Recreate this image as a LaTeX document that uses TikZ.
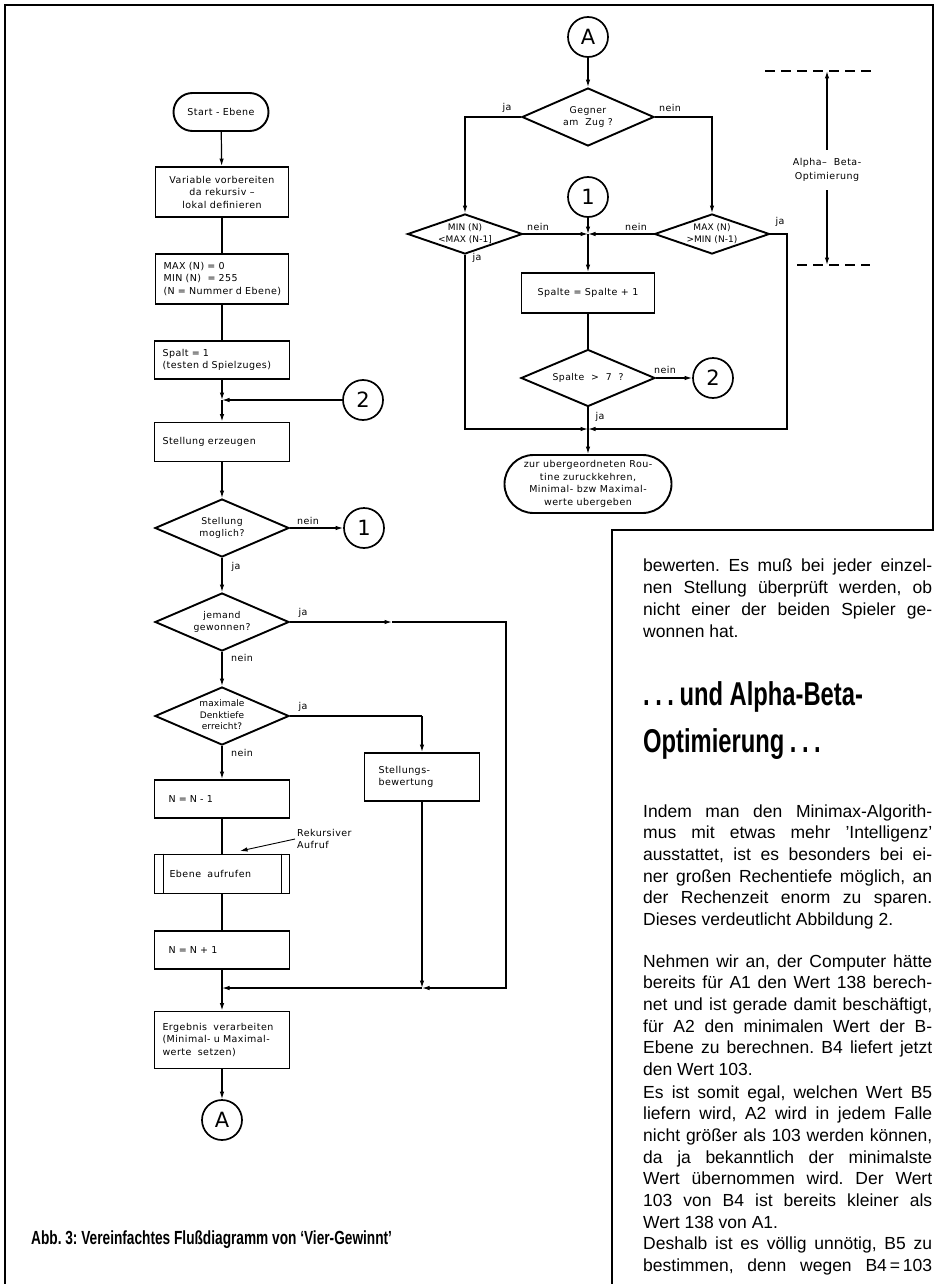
\documentclass[tikz,border=0pt]{standalone}
\usepackage{fontspec}
\setmainfont{Liberation Sans}
\newfontfamily\dinfont[LetterSpace=5]{DejaVu Sans}
\newfontfamily\dintight[LetterSpace=1]{DejaVu Sans}
\newfontfamily\condfont[FakeStretch=0.72]{Liberation Sans}
\usetikzlibrary{shapes.geometric,arrows.meta}
\frenchspacing
\newcommand\flowfont{\dinfont\fontsize{9.5}{12.5}\selectfont}
\newcommand\diafont{\dinfont\fontsize{9.3}{12.2}\selectfont}
\newcommand\smallfont{\dintight\fontsize{9}{11.5}\selectfont}
\newcommand\bodyfont{\fontsize{17.5}{21}\selectfont}
\newcommand\zb[1]{\makebox[0pt]{\smash{\raisebox{-0.45ex}{\begin{tabular}{@{}c@{}}#1\end{tabular}}}}}
\begin{document}
\begin{tikzpicture}[x=1pt,y=-1pt,
  con/.style={line width=1.2pt},
  arrc/.style={con,-{Latex[length=7.5pt,width=4.5pt]}},
  blk/.style={draw,line width=1.9pt,font=\flowfont,inner sep=0pt},
  dia/.style 2 args={blk,diamond,minimum width=#1,minimum height=#2,font=\diafont},
  conn/.style={draw,circle,line width=1.7pt,minimum size=40,inner sep=0pt,font=\dinfont\fontsize{21}{21}\selectfont},
  lbl/.style={font=\flowfont,inner sep=0pt},
  body/.style={anchor=base west,inner sep=0pt,font=\bodyfont},
  dsh/.style={line width=1.4pt,dash pattern=on 10pt off 6pt}]
\useasboundingbox (0,0) rectangle (936,1284);
% frame
\draw[line width=2pt] (5,1290) -- (5,5) -- (933,5) -- (933,530) -- (612,530) -- (612,1290);

% ---------------- left flowchart ----------------
\node[blk,rounded corners=19pt,minimum width=95,minimum height=38] (start) at (221,112) {Start - Ebene};
\node[blk,minimum width=133,minimum height=50,align=center] (v1) at (222,192) {Variable vorbereiten\\da rekursiv –\\lokal definieren};
\node[blk,minimum height=50,text width=117,inner xsep=8pt,align=left] (v2) at (222,279) {\mbox{MAX (N) = 0}\\\mbox{MIN (N) \ = 255}\\\mbox{(N = Nummer d Ebene)}};
\node[blk,minimum height=38,text width=119,inner xsep=8pt,align=left] (v3) at (222,360) {\mbox{Spalt = 1}\\\mbox{(testen d Spielzuges)}};
\coordinate (j1) at (222,400);
\node[conn] (c2) at (363,400) {2};
\node[blk,minimum height=39,text width=119,inner xsep=8pt,align=left] (v4) at (222,442) {\mbox{Stellung erzeugen}};
\node[dia={134}{58}] (d1) at (222,528) {\zb{Stellung\\moglich?}};
\node[conn] (c1) at (364,528) {1};
\node[dia={134}{58}] (d2) at (222,622) {\zb{jemand\\gewonnen?}};
\node[dia={134}{58},font=\smallfont] (d3) at (222,716) {\zb{maximale\\Denktiefe\\erreicht?}};
\node[blk,minimum height=48,text width=87,inner xsep=14pt,align=left] (sb) at (422,777) {\mbox{Stellungs-}\\\mbox{bewertung}};
\node[blk,minimum height=38,text width=107,inner xsep=14pt,align=left] (b5) at (222,799) {N = N - 1};
\node[blk,minimum height=39,text width=105,inner xsep=15pt,align=left] (b6) at (222,874) {\mbox{Ebene \ aufrufen}};
\node[blk,minimum height=38,text width=107,inner xsep=14pt,align=left] (b7) at (222,950) {N = N + 1};
\coordinate (j2) at (222,988);
\node[blk,minimum height=57,text width=119,inner xsep=8pt,align=left] (b8) at (222,1040) {\mbox{Ergebnis \ verarbeiten}\\\mbox{(Minimal- u Maximal-}\\\mbox{werte \ setzen)}};
\node[conn] (cA) at (222,1120) {A};
\draw[line width=1.8pt] ([xshift=10pt]b6.north west) -- ([xshift=10pt]b6.south west);
\draw[line width=1.8pt] ([xshift=-9pt]b6.north east) -- ([xshift=-9pt]b6.south east);

\coordinate (m1) at (392,622);
\coordinate (k1) at (506,622);
\coordinate (k2) at (506,988);
\coordinate (k3) at (422,988);
\coordinate (k4) at (422,716);

\draw[arrc] (start) -- (v1);
\draw[con] (v1) -- (v2);
\draw[con] (v2) -- (v3);
\draw[arrc] (v3) -- (j1);
\draw[arrc] (c2) -- (j1);
\draw[arrc] (j1) -- (v4);
\draw[arrc] (v4) -- (d1);
\draw[arrc] (d1.east) -- (c1);
\draw[arrc] (d1.south) -- (d2.north);
\draw[arrc] (d2.south) -- (d3.north);
\draw[arrc] (d2.east) -- (m1);
\draw[arrc] (m1) -- (k1) -- (k2) -- (k3);
\draw[arrc] (k3) -- (j2);
\draw[con] (d3.east) -- (k4);
\draw[arrc] (k4) -- (sb.north);
\draw[arrc] (sb.south) -- (k3);
\draw[arrc] (d3.south) -- (b5.north);
\draw[con] (b5) -- (b6);
\draw[con] (b6) -- (b7);
\draw[con] (b7) -- (j2);
\draw[arrc] (j2) -- (b8);
\draw[arrc] (b8) -- (cA);

\node[lbl] (l1) at (308,521) {nein};
\node[lbl] (l2) at (236,567) {ja};
\node[lbl] (l3) at (303,613) {ja};
\node[lbl] (l4) at (242,658) {nein};
\node[lbl] (l5) at (303,707) {ja};
\node[lbl] (l6) at (242,753) {nein};
\node[lbl,anchor=west,align=left] (rk) at (297,839) {Rekursiver\\Aufruf};
\coordinate (ra) at (240,851);
\draw[arrc,line width=0.9pt] ([xshift=-2pt]rk.west) -- (ra);

% ---------------- right flowchart ----------------
\node[conn] (cA2) at (588,37) {A};
\node[dia={132}{58}] (g) at (588,117) {\zb{Gegner\\am \ Zug ?}};
\node[dia={115}{40},font=\smallfont] (mn) at (465,234) {\zb{MIN (N)\\<MAX (N-1]}};
\node[dia={115}{40},font=\smallfont] (mx) at (712,234) {\zb{MAX (N)\\>MIN (N-1)}};
\node[conn] (c1r) at (588,197) {1};
\coordinate (jr) at (588,234);
\node[blk,minimum width=133,minimum height=40] (sp) at (588,293) {Spalte = Spalte + 1};
\node[dia={134}{57}] (d7) at (588,378) {\zb{Spalte \ > \ 7 \ ?}};
\node[conn] (c2r) at (713,378) {2};
\coordinate (j3) at (588,429);
\node[blk,rounded corners=29pt,minimum width=167,minimum height=58,align=center] (term) at (588,484) {zur ubergeordneten Rou-\\tine zuruckkehren,\\Minimal- bzw Maximal-\\werte ubergeben};

\coordinate (g1) at (465,117);
\coordinate (g2) at (712,117);
\coordinate (n1) at (465,429);
\coordinate (x1) at (787,234);
\coordinate (x2) at (787,429);

\draw[arrc] (cA2) -- (g);
\draw[arrc] (g.west) -- (g1) -- (mn.north);
\draw[arrc] (g.east) -- (g2) -- (mx.north);
\draw[arrc] (mn.east) -- (jr);
\draw[arrc] (mx.west) -- (jr);
\draw[arrc] (c1r) -- (jr);
\draw[arrc] (jr) -- (sp);
\draw[con] (sp) -- (d7);
\draw[arrc] (d7.east) -- (c2r);
\draw[arrc] (d7.south) -- (term.north);
\draw[arrc] (mn.south) -- (n1) -- (j3);
\draw[arrc] (mx.east) -- (x1) -- (x2) -- (j3);

\node[lbl] (r1) at (507,108) {ja};
\node[lbl] (r2) at (670,108) {nein};
\node[lbl] (r3) at (538,227) {nein};
\node[lbl] (r4) at (636,227) {nein};
\node[lbl] (r5) at (477,258) {ja};
\node[lbl] (r6) at (780,222) {ja};
\node[lbl] (r7) at (665,370) {nein};
\node[lbl] (r8) at (600,417) {ja};

% alpha-beta annotation
\coordinate (ab1) at (827,71);
\coordinate (ab2) at (827,265);
\draw[dsh] (765,71) -- (873,71);
\draw[dsh] (797,265) -- (870,265);
\node[lbl,align=center,minimum height=40] (ab) at (827,170) {Alpha– \ Beta-\\[2pt]Optimierung};
\draw[arrc] (ab.north) -- (ab1);
\draw[arrc] (ab.south) -- (ab2);

% ---------------- caption ----------------
\node[anchor=base west,inner sep=0pt,font=\condfont\bfseries\fontsize{19}{19}\selectfont] (cap) at (31,1244) {Abb. 3: Vereinfachtes Flußdiagramm von ‘Vier-Gewinnt’};

% ---------------- right column text ----------------
\node[body] (t1) at (643,571) {\makebox[289pt][s]{bewerten. Es muß bei jeder einzel-}};
\node[body] (t2) at (643,593) {\makebox[289pt][s]{nen Stellung überprüft werden, ob}};
\node[body] (t3) at (643,615) {\makebox[289pt][s]{nicht einer der beiden Spieler ge-}};
\node[body] (t4) at (643,637) {wonnen hat.};

\node[anchor=base west,inner sep=0pt,font=\condfont\bfseries\fontsize{33}{33}\selectfont] (h1) at (643,705) {.\,.\,.\,und Alpha-Beta-};
\node[anchor=base west,inner sep=0pt,font=\condfont\bfseries\fontsize{33}{33}\selectfont] (h2) at (643,752) {Optimierung\,.\,.\,.};

\node[body] (p1) at (643,817) {\makebox[289pt][s]{Indem man den Minimax-Algorith-}};
\node[body] (p2) at (643,838.7) {\makebox[289pt][s]{mus mit etwas mehr ’Intelligenz’}};
\node[body] (p3) at (643,860.4) {\makebox[289pt][s]{ausstattet, ist es besonders bei ei-}};
\node[body] (p4) at (643,882.1) {\makebox[289pt][s]{ner großen Rechentiefe möglich, an}};
\node[body] (p5) at (643,903.8) {\makebox[289pt][s]{der Rechenzeit enorm zu sparen.}};
\node[body] (p6) at (643,925.5) {Dieses verdeutlicht Abbildung 2.};

\node[body] (q1) at (643,967) {\makebox[289pt][s]{Nehmen wir an, der Computer hätte}};
\node[body] (q2) at (643,988.7) {\makebox[289pt][s]{bereits für A1 den Wert 138 berech-}};
\node[body] (q3) at (643,1010.4) {\makebox[289pt][s]{net und ist gerade damit beschäftigt,}};
\node[body] (q4) at (643,1032.1) {\makebox[289pt][s]{für A2 den minimalen Wert der B-}};
\node[body] (q5) at (643,1053.8) {\makebox[289pt][s]{Ebene zu berechnen. B4 liefert jetzt}};
\node[body] (q6) at (643,1075.5) {den Wert 103.};
\node[body] (q7) at (643,1098) {\makebox[289pt][s]{Es ist somit egal, welchen Wert B5}};
\node[body] (q8) at (643,1119.7) {\makebox[289pt][s]{liefern wird, A2 wird in jedem Falle}};
\node[body] (q9) at (643,1141.4) {\makebox[289pt][s]{nicht größer als 103 werden können,}};
\node[body] (q10) at (643,1163.1) {\makebox[289pt][s]{da ja bekanntlich der minimalste}};
\node[body] (q11) at (643,1184.8) {\makebox[289pt][s]{Wert übernommen wird. Der Wert}};
\node[body] (q12) at (643,1206.5) {\makebox[289pt][s]{103 von B4 ist bereits kleiner als}};
\node[body] (q13) at (643,1228.2) {Wert 138 von A1.};
\node[body] (q14) at (643,1249.9) {\makebox[289pt][s]{Deshalb ist es völlig unnötig, B5 zu}};
\node[body] (q15) at (643,1271.6) {\makebox[289pt][s]{bestimmen, denn wegen B4\,=\,103}};
\end{tikzpicture}
\end{document}
